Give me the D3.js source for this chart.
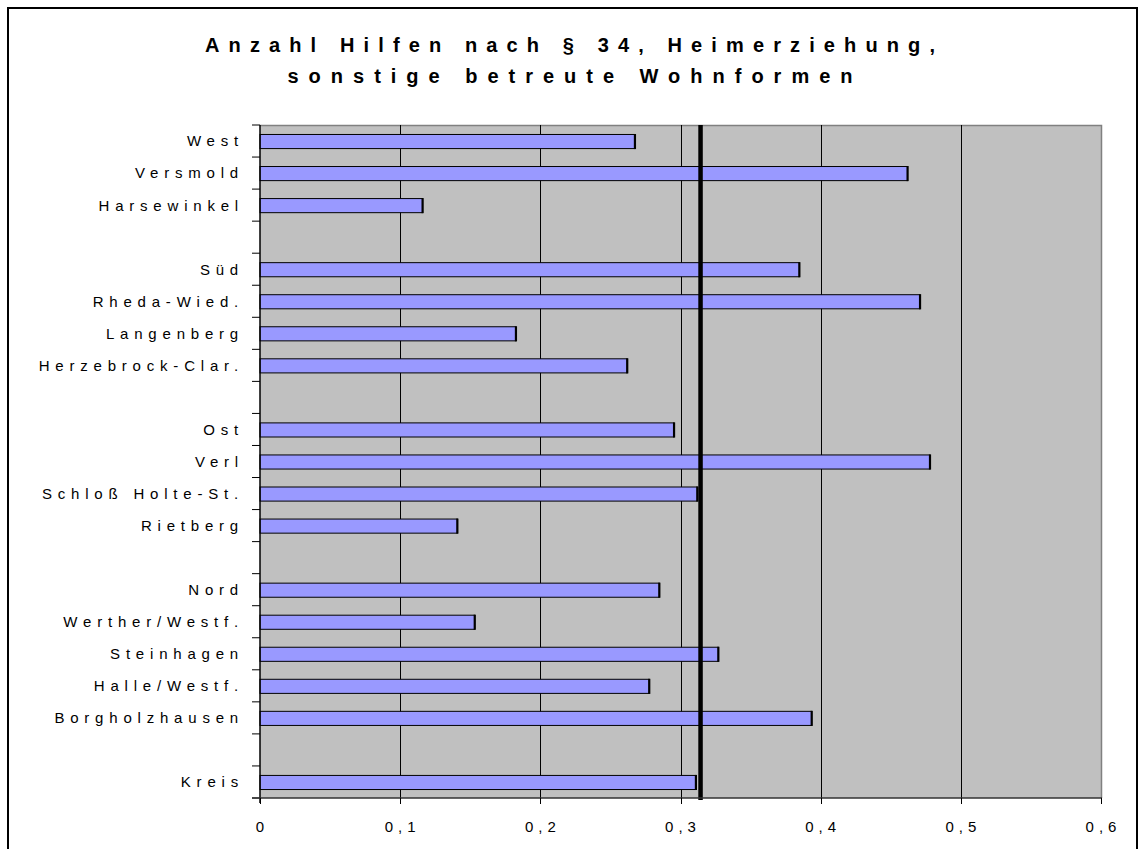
<!DOCTYPE html>
<html>
<head>
<meta charset="utf-8">
<script src="https://cdn.jsdelivr.net/npm/d3@7"></script>
<style>
  html, body { margin: 0; padding: 0; background: #fff; }
  svg { display: block; font-family: "Liberation Sans", Arial, sans-serif; }
</style>
</head>
<body>
<svg id="chart" width="1144" height="849"></svg>
<script>
// Rows from top to bottom; null marks an empty spacer row between districts.
const categories = [
  "West", "Versmold", "Harsewinkel", null,
  "Süd", "Rheda-Wied.", "Langenberg", "Herzebrock-Clar.", null,
  "Ost", "Verl", "Schloß Holte-St.", "Rietberg", null,
  "Nord", "Werther/Westf.", "Steinhagen", "Halle/Westf.", "Borgholzhausen", null,
  "Kreis"
];
const values = [
  0.2675, 0.462, 0.116, null,
  0.3848, 0.4709, 0.1826, 0.262, null,
  0.2954, 0.478, 0.312, 0.1408, null,
  0.2849, 0.1532, 0.327, 0.2777, 0.3936, null,
  0.311
];
const referenceValue = 0.3143;
const xTicks = [0, 0.1, 0.2, 0.3, 0.4, 0.5, 0.6];
const xTickLabels = ["0", "0,1", "0,2", "0,3", "0,4", "0,5", "0,6"];
const titleLines = ["Anzahl Hilfen nach § 34, Heimerziehung,", "sonstige betreute Wohnformen"];

const svg = d3.select("#chart");
const plot = { left: 260, right: 1101, top: 125, bottom: 798 };

const x = d3.scaleLinear().domain([0, 0.6]).range([plot.left, plot.right]);
const y = d3.scaleBand().domain(d3.range(categories.length)).range([plot.top, plot.bottom]);

// Outer frame
svg.append("rect")
  .attr("x", 8).attr("y", 8).attr("width", 1129).attr("height", 900)
  .attr("fill", "none").attr("stroke", "#000").attr("stroke-width", 2);

// Title
svg.append("g").selectAll("text").data(titleLines).join("text")
  .attr("x", 570)
  .attr("y", (d, i) => 52 + i * 31)
  .attr("text-anchor", "middle")
  .attr("font-size", 20)
  .attr("font-weight", "bold")
  .attr("textLength", (d, i) => i === 0 ? 730 : 565)
  .attr("lengthAdjust", "spacing")
  .text(d => d);

// Plot background
svg.append("rect")
  .attr("x", plot.left).attr("y", plot.top)
  .attr("width", plot.right - plot.left).attr("height", plot.bottom - plot.top)
  .attr("fill", "#c0c0c0");

// Plot border (top / right)
svg.append("path")
  .attr("d", `M${plot.left},${plot.top + 0.5}H${plot.right + 0.5}V${plot.bottom}`)
  .attr("fill", "none").attr("stroke", "#808080").attr("stroke-width", 1.5);

// Vertical gridlines
svg.append("g").selectAll("line").data(xTicks.filter(t => t > 0 && t < 0.6)).join("line")
  .attr("x1", d => Math.round(x(d)) + 0.5).attr("x2", d => Math.round(x(d)) + 0.5)
  .attr("y1", plot.top).attr("y2", plot.bottom)
  .attr("stroke", "#000").attr("stroke-width", 1);

// Bars
const barH = y.bandwidth() * 0.44;
const rows = categories.map((c, i) => ({ c, v: values[i], i })).filter(d => d.c !== null);
const bars = svg.append("g");
bars.selectAll("rect").data(rows).join("rect")
  .attr("x", x(0))
  .attr("y", d => y(d.i) + (y.bandwidth() - barH) / 2 + 0.5)
  .attr("width", d => x(d.v) - x(0))
  .attr("height", barH)
  .attr("fill", "#9999ff")
  .attr("stroke", "#000").attr("stroke-width", 1);
// Heavier right edge of each bar
bars.selectAll("line").data(rows).join("line")
  .attr("x1", d => x(d.v)).attr("x2", d => x(d.v))
  .attr("y1", d => y(d.i) + (y.bandwidth() - barH) / 2)
  .attr("y2", d => y(d.i) + (y.bandwidth() + barH) / 2 + 1)
  .attr("stroke", "#000").attr("stroke-width", 2.2);

// Reference line
svg.append("line")
  .attr("x1", x(referenceValue)).attr("x2", x(referenceValue))
  .attr("y1", plot.top).attr("y2", plot.bottom + 2)
  .attr("stroke", "#000").attr("stroke-width", 4.5);

// Y axis: ticks at row boundaries
const yAxis = svg.append("g");
yAxis.append("line")
  .attr("x1", plot.left).attr("x2", plot.left)
  .attr("y1", plot.top).attr("y2", plot.bottom + 5)
  .attr("stroke", "#000").attr("stroke-width", 1.5);
yAxis.selectAll("line.tick").data(d3.range(categories.length + 1)).join("line")
  .attr("class", "tick")
  .attr("x1", plot.left - 8).attr("x2", plot.left)
  .attr("y1", i => plot.top + i * y.step()).attr("y2", i => plot.top + i * y.step())
  .attr("stroke", "#000").attr("stroke-width", 1);
yAxis.selectAll("text").data(rows).join("text")
  .attr("x", 244)
  .attr("y", d => y(d.i) + y.bandwidth() / 2)
  .attr("dy", "0.36em")
  .attr("text-anchor", "end")
  .attr("font-size", 15)
  .attr("letter-spacing", 5.8)
  .text(d => d.c);

// X axis
const xAxis = svg.append("g");
xAxis.append("line")
  .attr("x1", plot.left - 8).attr("x2", plot.right + 1)
  .attr("y1", plot.bottom).attr("y2", plot.bottom)
  .attr("stroke", "#333").attr("stroke-width", 1.5);
xAxis.selectAll("line.tick").data(xTicks).join("line")
  .attr("class", "tick")
  .attr("x1", d => Math.round(x(d)) + 0.5).attr("x2", d => Math.round(x(d)) + 0.5)
  .attr("y1", plot.bottom).attr("y2", plot.bottom + 6)
  .attr("stroke", "#000").attr("stroke-width", 1);
xAxis.selectAll("text").data(xTicks).join("text")
  .attr("x", d => x(d) + 2.5)
  .attr("y", 832)
  .attr("text-anchor", "middle")
  .attr("font-size", 15)
  .attr("letter-spacing", 5)
  .text((d, i) => xTickLabels[i]);
</script>
</body>
</html>
